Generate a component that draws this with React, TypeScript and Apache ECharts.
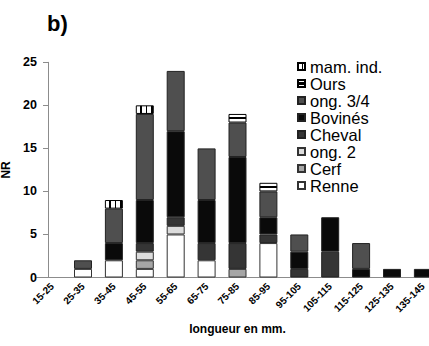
import React, { useEffect, useRef } from "react";
import * as echarts from "echarts";

const categories = ["15-25", "25-35", "35-45", "45-55", "55-65", "65-75", "75-85", "85-95", "95-105", "105-115", "115-125", "125-135", "135-145"];
const renne = [0, 1, 2, 1, 5, 2, 0, 4, 0, 0, 0, 0, 0];
const cerf = [0, 0, 0, 1, 0, 0, 1, 0, 0, 0, 0, 0, 0];
const ong2 = [0, 0, 0, 1, 1, 0, 0, 0, 0, 0, 0, 0, 0];
const cheval = [0, 0, 0, 1, 1, 2, 3, 1, 1, 3, 0, 0, 0];
const bovines = [0, 0, 2, 5, 10, 5, 10, 2, 2, 4, 1, 1, 1];
const ong34 = [0, 1, 4, 10, 7, 6, 4, 3, 2, 0, 3, 0, 0];
const ours = [0, 0, 0, 0, 0, 0, 1, 1, 0, 0, 0, 0, 0];
const mamInd = [0, 0, 1, 1, 0, 0, 0, 0, 0, 0, 0, 0, 0];
const yTicks = [0, 5, 10, 15, 20, 25];

const FONT = "'Liberation Sans', Arial, sans-serif";

const oursColor = new echarts.graphic.LinearGradient(0, 0, 0, 1, [
  { offset: 0, color: "#ffffff" },
  { offset: 0.3, color: "#ffffff" },
  { offset: 0.3, color: "#000000" },
  { offset: 0.65, color: "#000000" },
  { offset: 0.65, color: "#ffffff" },
  { offset: 1, color: "#ffffff" },
]);

const mamColor = new echarts.graphic.LinearGradient(0, 0, 1, 0, [
  { offset: 0, color: "#ffffff" },
  { offset: 0.22, color: "#ffffff" },
  { offset: 0.22, color: "#000000" },
  { offset: 0.32, color: "#000000" },
  { offset: 0.32, color: "#ffffff" },
  { offset: 0.55, color: "#ffffff" },
  { offset: 0.55, color: "#000000" },
  { offset: 0.65, color: "#000000" },
  { offset: 0.65, color: "#ffffff" },
  { offset: 0.88, color: "#ffffff" },
  { offset: 0.88, color: "#000000" },
  { offset: 0.98, color: "#000000" },
  { offset: 0.98, color: "#ffffff" },
  { offset: 1, color: "#ffffff" },
]);

const seriesDefs = [
  { name: "Renne", data: renne, color: "#ffffff", border: "#333333" },
  { name: "Cerf", data: cerf, color: "#a6a6a6", border: "#333333" },
  { name: "ong. 2", data: ong2, color: "#dcdcdc", border: "#333333" },
  { name: "Cheval", data: cheval, color: "#353535", border: "#222222" },
  { name: "Bovinés", data: bovines, color: "#0a0a0a", border: "#222222" },
  { name: "ong. 3/4", data: ong34, color: "#4f4f4f", border: "#222222" },
  { name: "Ours", data: ours, color: oursColor as any, border: "#000000" },
  { name: "mam. ind.", data: mamInd, color: mamColor as any, border: "#000000" },
];

export default function App() {
  const ref = useRef<HTMLDivElement>(null);
  useEffect(() => {
    document.body.style.margin = "0";
    const chart = echarts.init(ref.current!, null, { renderer: "svg" });
    chart.setOption({
      animation: false,
      backgroundColor: "#ffffff",
      title: {
        text: "b)",
        left: 42,
        top: 7,
        textStyle: { fontFamily: FONT, fontSize: 22, fontWeight: "bold", color: "#000" },
      },
      legend: {
        orient: "vertical",
        left: 292,
        top: 53,
        itemGap: 0,
        itemWidth: 7,
        itemHeight: 7,
        icon: "rect",
        data: seriesDefs.map((s) => s.name).reverse(),
        textStyle: { fontFamily: FONT, fontSize: 16.5, color: "#000", lineHeight: 16 },
      },
      grid: {
        left: 36.65,
        right: -9.35,
        top: 62.3,
        bottom: 68.5,
        containLabel: false,
        outerBoundsMode: "none",
      },
      xAxis: {
        type: "category",
        data: categories,
        name: "longueur en mm.",
        nameLocation: "middle",
        nameGap: 45,
        nameTextStyle: { fontFamily: FONT, fontSize: 12, fontWeight: "bold", color: "#000" },
        axisLine: { lineStyle: { color: "#8c8c8c", width: 1 } },
        axisTick: { show: false },
        axisLabel: {
          rotate: 45,
          interval: 0,
          margin: 7,
          fontFamily: FONT,
          fontSize: 10,
          fontWeight: "bold",
          color: "#000",
        },
      },
      yAxis: {
        type: "value",
        min: yTicks[0],
        max: yTicks[yTicks.length - 1],
        interval: 5,
        offset: -11.35,
        name: "NR",
        nameLocation: "middle",
        nameGap: 26,
        nameTextStyle: { fontFamily: FONT, fontSize: 12, fontWeight: "bold", color: "#000" },
        axisLine: { show: true, lineStyle: { color: "#8c8c8c", width: 1 } },
        axisTick: { show: true, length: 5, lineStyle: { color: "#8c8c8c" } },
        splitLine: { show: false },
        axisLabel: {
          margin: 11,
          fontFamily: FONT,
          fontSize: 12.5,
          fontWeight: "bold",
          color: "#000",
        },
      },
      series: seriesDefs.map((s) => ({
        name: s.name,
        type: "bar",
        stack: "total",
        barWidth: 18,
        data: s.data.map((v) => (v === 0 ? null : v)),
        itemStyle: { color: s.color, borderColor: s.border, borderWidth: 1 },
        emphasis: { disabled: true },
      })),
    });
    return () => chart.dispose();
  }, []);
  return <div ref={ref} style={{ width: 429, height: 346 }} />;
}
